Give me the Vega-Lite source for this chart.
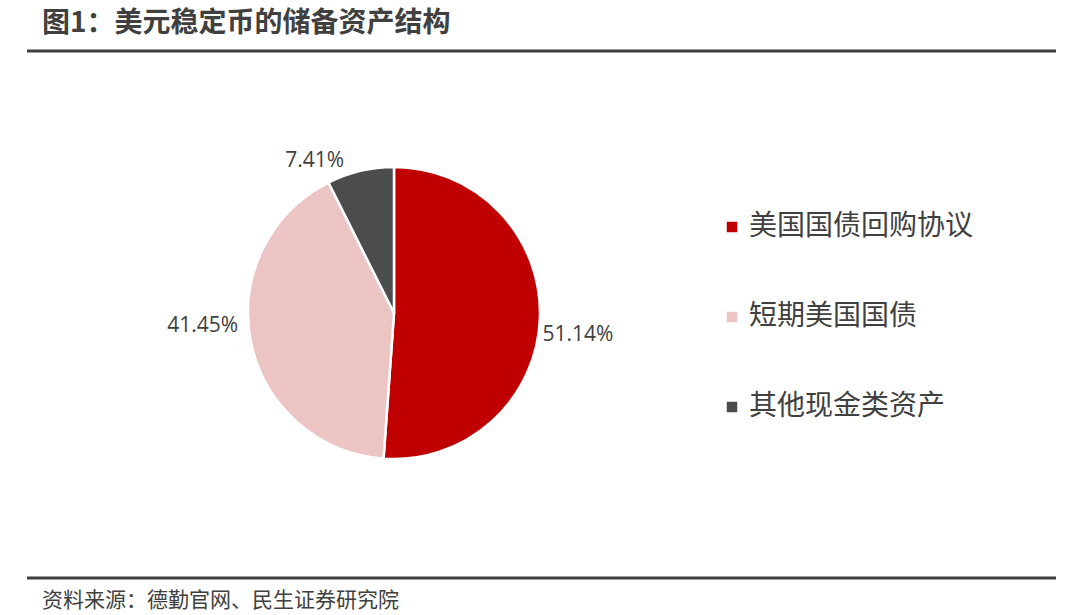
{
  "$schema": "https://vega.github.io/schema/vega-lite/v6.json",
  "width": 1029,
  "height": 527,
  "autosize": {"type": "none"},
  "padding": {"left": 27, "top": 51, "right": 24, "bottom": 37},
  "background": "white",
  "view": {"stroke": "#404040", "strokeWidth": 3, "strokeDash": [1029, 527, 1029, 527]},
  "config": {
    "font": "Noto Sans CJK SC"
  },
  "title": {
    "text": "图1：美元稳定币的储备资产结构",
    "anchor": "start",
    "frame": "group",
    "fontSize": 28,
    "fontWeight": "bold",
    "color": "#404040",
    "font": "Noto Sans CJK SC",
    "dx": 15,
    "offset": 13
  },
  "data": {
    "values": [
      {"cat": "美国国债回购协议", "value": 51.14, "label": "51.14%", "idx": 1},
      {"cat": "短期美国国债", "value": 41.45, "label": "41.45%", "idx": 2},
      {"cat": "其他现金类资产", "value": 7.41, "label": "7.41%", "idx": 3}
    ]
  },
  "layer": [
    {
      "mark": {"type": "arc", "outerRadius": 146, "x": 367, "y": 262, "stroke": "white", "strokeWidth": 2.5},
      "encoding": {
        "theta": {"field": "value", "type": "quantitative", "stack": true},
        "order": {"field": "idx", "type": "quantitative"},
        "color": {
          "field": "cat",
          "type": "nominal",
          "sort": null,
          "scale": {
            "domain": ["美国国债回购协议", "短期美国国债", "其他现金类资产"],
            "range": ["#C00000", "#ECC4C4", "#4B4C4E"]
          },
          "legend": {
            "orient": "none",
            "legendX": 691,
            "legendY": 162,
            "title": null,
            "symbolType": "square",
            "symbolSize": 110,
            "symbolStrokeWidth": 0,
            "labelFontSize": 28,
            "labelLimit": 0,
            "labelColor": "#404040",
            "labelFont": "Noto Sans CJK SC",
            "rowPadding": 62,
            "labelOffset": 3
          }
        }
      }
    },
    {
      "mark": {"type": "text", "radius": 185, "x": 367, "y": 262, "dy": 15, "dx": -1, "fontSize": 21, "color": "#404040", "font": "Open Sans"},
      "encoding": {
        "theta": {"field": "value", "type": "quantitative", "stack": true},
        "order": {"field": "idx", "type": "quantitative"},
        "text": {"condition": {"test": "datum.cat === '美国国债回购协议'", "field": "label"}, "value": ""}
      }
    },
    {
      "mark": {"type": "text", "radius": 190, "x": 367, "y": 262, "dx": -5, "dy": -24, "fontSize": 21, "color": "#404040", "font": "Open Sans"},
      "encoding": {
        "theta": {"field": "value", "type": "quantitative", "stack": true},
        "order": {"field": "idx", "type": "quantitative"},
        "text": {"condition": {"test": "datum.cat === '短期美国国债'", "field": "label"}, "value": ""}
      }
    },
    {
      "mark": {"type": "text", "radius": 170, "x": 367, "y": 262, "dx": -40, "dy": 13, "fontSize": 21, "color": "#404040", "font": "Open Sans"},
      "encoding": {
        "theta": {"field": "value", "type": "quantitative", "stack": true},
        "order": {"field": "idx", "type": "quantitative"},
        "text": {"condition": {"test": "datum.cat === '其他现金类资产'", "field": "label"}, "value": ""}
      }
    },
    {
      "data": {"values": [{"note": "资料来源：德勤官网、民生证券研究院"}]},
      "mark": {"type": "text", "x": 15, "y": 550, "align": "left", "baseline": "middle", "fontSize": 21, "color": "#404040", "font": "Noto Sans CJK SC"},
      "encoding": {"text": {"field": "note", "type": "nominal"}}
    }
  ]
}
